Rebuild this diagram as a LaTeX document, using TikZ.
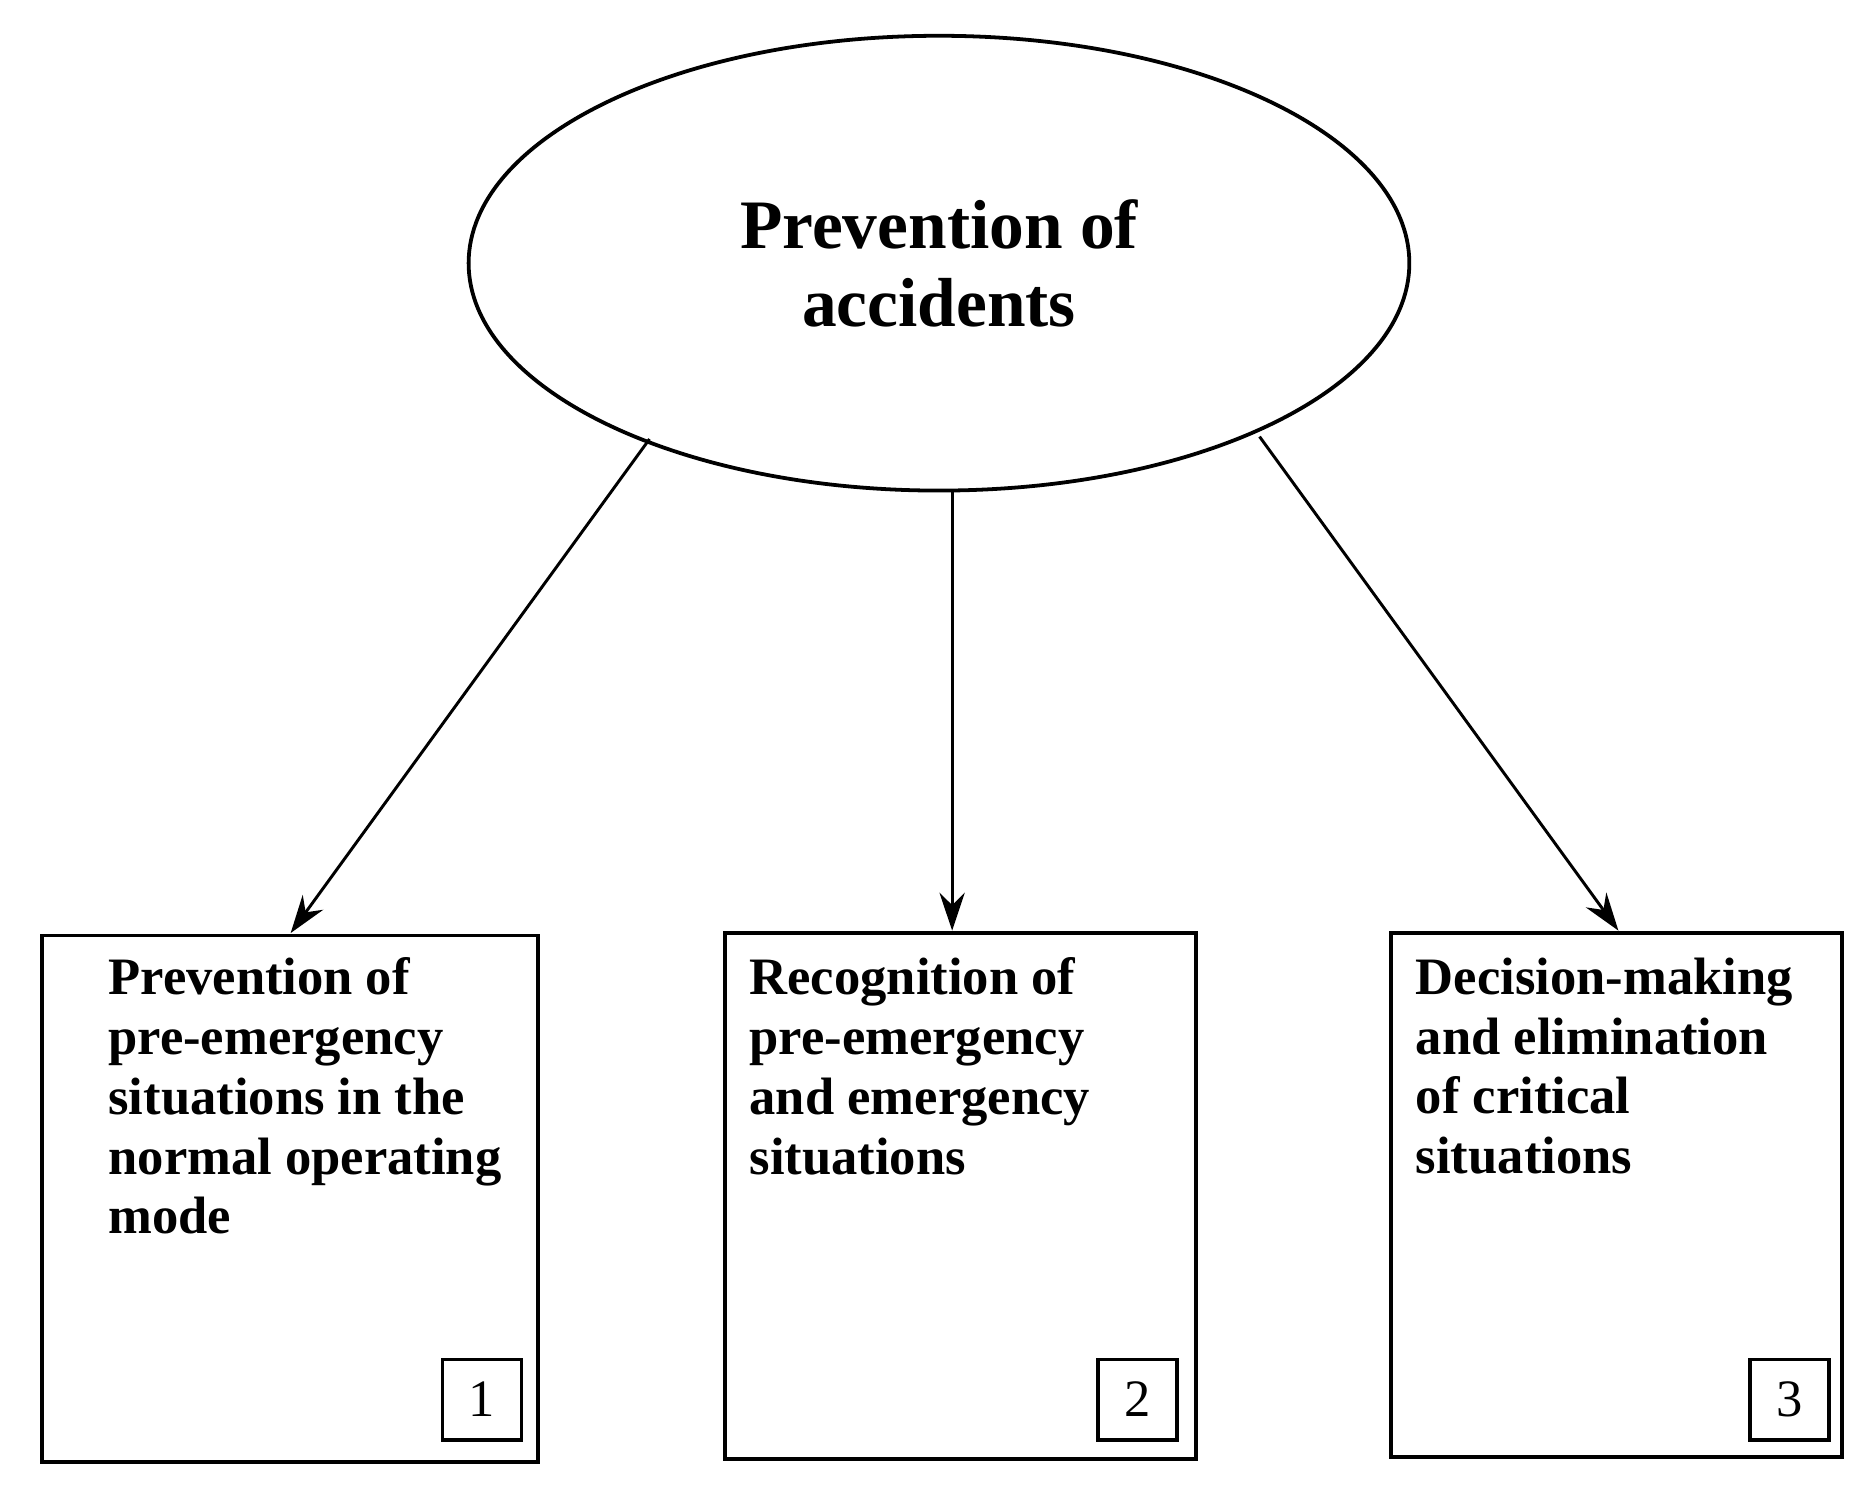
\documentclass[tikz,border=0pt]{standalone}
\usepackage{fontspec}
\setmainfont{Liberation Serif}
\usetikzlibrary{shapes.geometric,arrows.meta}
\begin{document}
\begin{tikzpicture}[x=0.01cm,y=-0.01cm,
  box/.style={draw,line width=0.9pt},
  lbl/.style={anchor=north west,align=left,font=\fontsize{12.5}{14.2}\selectfont\bfseries,inner sep=0pt},
  num/.style={draw,line width=0.9pt,minimum width=0.66cm,minimum height=0.67cm,inner sep=0pt,font=\fontsize{12.5}{14}\selectfont},
  arr/.style={-{Stealth[length=9pt,width=6pt]},line width=0.7pt}]
\useasboundingbox (0,0) rectangle (1560,1253);
\node[ellipse,draw,line width=0.9pt,minimum width=7.86cm,minimum height=3.8cm,align=center,
  font=\fontsize{16.5}{18.5}\selectfont\bfseries] (top) at (785,220) {Prevention of\\accidents};
\draw[box] (35,782) rectangle (450,1222);
\draw[box] (606,780) rectangle (1000,1220);
\draw[box] (1163,780) rectangle (1540,1218);
\coordinate (b1) at (243,780);
\coordinate (b2) at (796,778);
\coordinate (b3) at (1353,778);
\coordinate (s1) at (543,367);
\coordinate (s2) at (796,410);
\coordinate (s3) at (1053,365);
\draw[arr] (s1) -- (b1);
\draw[arr] (s2) -- (b2);
\draw[arr] (s3) -- (b3);
\node[lbl] (t1) at (90,800) {Prevention of\\pre-emergency\\situations in the\\normal operating\\mode};
\node[lbl] (t2) at (626,800) {Recognition of\\pre-emergency\\and emergency\\situations};
\node[lbl] (t3) at (1183,800) {Decision-making\\and elimination\\of critical\\situations};
\node[num] (n1) at (403,1170) {1};
\node[num] (n2) at (951,1170) {2};
\node[num] (n3) at (1496,1170) {3};
\end{tikzpicture}
\end{document}
